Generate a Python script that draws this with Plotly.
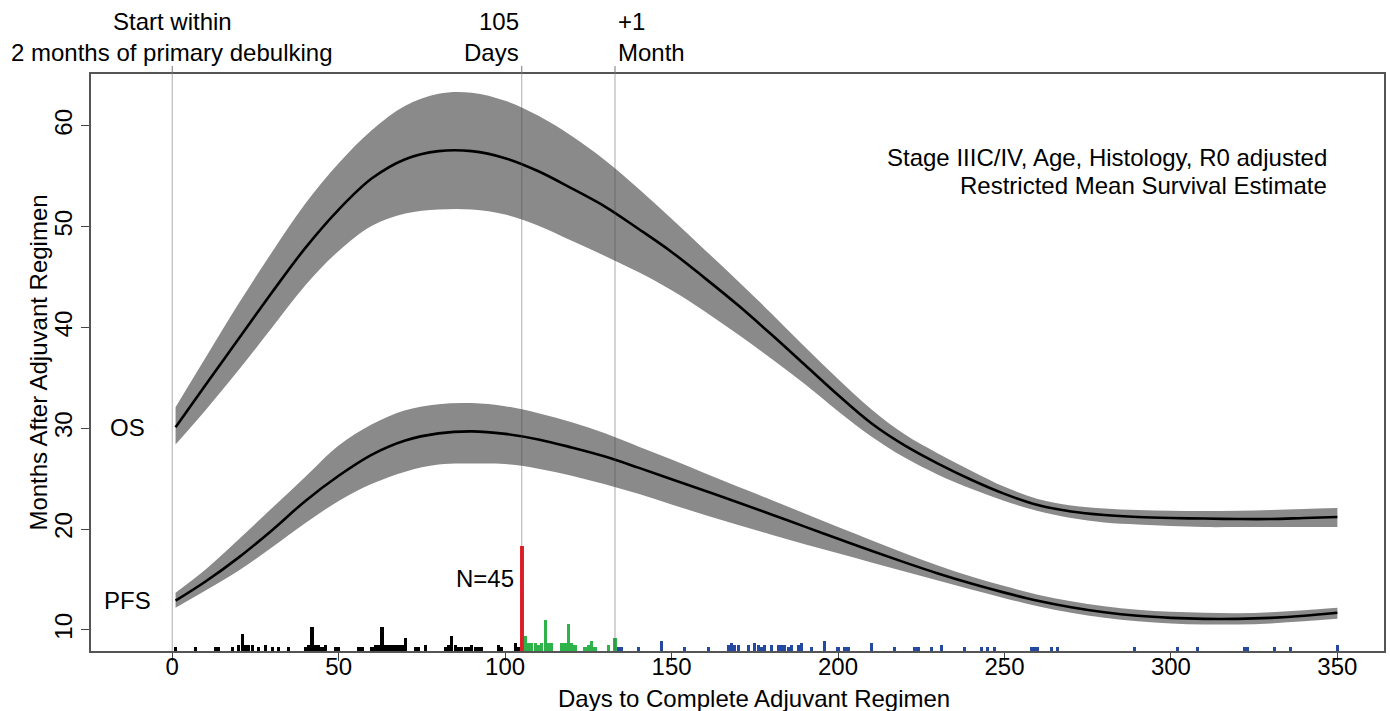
import plotly.graph_objects as go

# ---- Restricted mean survival curves (months) by days to complete regimen ----
days = [1, 10, 20, 30, 40, 50, 60, 70, 80, 90, 100, 110, 120, 130, 140, 150, 160, 170,
        180, 190, 200, 210, 220, 230, 240, 250, 260, 270, 280, 290, 300, 310, 320, 330, 340, 350]

os_mean = [30.1, 34.3, 38.9, 43.5, 47.9, 51.7, 54.8, 56.7, 57.5, 57.5, 56.8, 55.5, 53.8, 52.0,
           49.8, 47.5, 44.9, 42.2, 39.3, 36.3, 33.3, 30.5, 28.3, 26.5, 24.9, 23.5, 22.4, 21.75,
           21.4, 21.2, 21.1, 21.05, 21.0, 21.0, 21.1, 21.2]
os_upper = [32.1, 37.0, 42.4, 47.5, 52.3, 56.3, 59.6, 62.0, 63.2, 63.3, 62.5, 61.0, 59.0, 56.6,
            53.8, 50.8, 47.7, 44.6, 41.4, 38.1, 34.9, 31.9, 29.4, 27.5, 25.8, 24.2, 23.0, 22.35,
            22.05, 21.9, 21.82, 21.8, 21.83, 21.9, 22.0, 22.1]
os_lower = [28.4, 31.8, 35.8, 40.0, 44.2, 47.6, 50.1, 51.3, 51.7, 51.7, 51.2, 50.1, 48.6, 47.1,
            45.5, 43.7, 41.6, 39.3, 36.9, 34.4, 31.7, 29.2, 27.1, 25.4, 24.0, 22.8, 21.8, 21.1,
            20.65, 20.45, 20.3, 20.2, 20.2, 20.2, 20.2, 20.2]

pfs_mean = [12.9, 14.8, 17.2, 19.9, 22.8, 25.3, 27.4, 28.8, 29.5, 29.7, 29.45, 28.9, 28.1, 27.2,
            26.1, 24.95, 23.8, 22.65, 21.45, 20.25, 19.05, 17.85, 16.7, 15.6, 14.6, 13.7, 12.9,
            12.25, 11.75, 11.4, 11.2, 11.1, 11.1, 11.2, 11.4, 11.7]
pfs_upper = [13.7, 16.0, 19.0, 22.1, 25.2, 28.3, 30.4, 31.8, 32.4, 32.5, 32.2, 31.5, 30.6, 29.5,
             28.2, 26.9, 25.55, 24.2, 22.9, 21.55, 20.2, 18.9, 17.6, 16.4, 15.3, 14.35, 13.5,
             12.85, 12.35, 12.0, 11.8, 11.7, 11.65, 11.75, 11.95, 12.2]
pfs_lower = [12.2, 13.9, 15.9, 18.2, 20.6, 22.8, 24.5, 25.7, 26.4, 26.5, 26.45, 26.0, 25.3, 24.45,
             23.5, 22.45, 21.4, 20.4, 19.45, 18.5, 17.6, 16.7, 15.8, 14.9, 14.0, 13.15, 12.35,
             11.7, 11.2, 10.85, 10.65, 10.55, 10.55, 10.65, 10.85, 11.1]

# ---- Patient counts by days to complete regimen (rug histogram) ----
early_days = [1, 7, 13, 14, 18, 20, 21, 22, 23, 24, 26, 28, 30, 32, 35, 40, 41, 42, 43, 44, 45,
              46, 49, 50, 56, 57, 60, 61, 62, 63, 64, 65, 66, 67, 68, 69, 70, 73, 74, 76, 82, 83,
              84, 85, 86, 87, 88, 89, 90, 91, 92, 93, 98, 99, 103, 104]
early_counts = [1, 1, 1, 1, 1, 2, 7, 2, 2, 2, 1, 2, 1, 1, 1, 1, 2, 10, 2, 2, 1,
                2, 1, 1, 1, 1, 1, 2, 2, 10, 2, 2, 2, 2, 2, 2, 5, 1, 1, 2, 1, 2,
                6, 2, 1, 1, 1, 1, 2, 1, 1, 1, 2, 1, 3, 1]
target_days = [105]
target_counts = [45]
month_days = [106, 107, 108, 109, 110, 111, 112, 113, 114, 117, 118, 119, 120, 121, 124, 125,
              126, 127, 131, 133]
month_counts = [6, 3, 3, 3, 2, 3, 13, 3, 3, 3, 3, 11, 3, 2, 1, 2, 4, 1, 2, 5]
late_days = [134, 135, 140, 147, 154, 161, 167, 168, 169, 170, 173, 175, 176, 177, 178, 180, 182,
             183, 184, 185, 186, 188, 189, 192, 196, 200, 202, 203, 210, 217, 223, 224, 228, 231,
             238, 243, 245, 247, 258, 259, 260, 264, 266, 289, 302, 308, 322, 323, 331, 336, 350]
late_counts = [1, 1, 1, 4, 1, 1, 2, 3, 2, 2, 2, 3, 2, 1, 2, 2, 2,
               2, 2, 1, 2, 2, 3, 1, 4, 1, 1, 1, 3, 1, 1, 1, 1, 2,
               1, 1, 1, 1, 1, 1, 1, 1, 1, 1, 1, 1, 1, 1, 1, 1, 2]

x_ticks = [0, 50, 100, 150, 200, 250, 300, 350]
y_ticks = [10, 20, 30, 40, 50, 60]
ref_days = [0, 105, 133]

X_RANGE = [-24.4, 364.0]
Y_RANGE = [7.91, 65.15]
COUNT_SCALE = 0.2287  # months of bar height per patient in the rug histogram
STUB = 0.12           # keeps single-patient bars visible above the frame line

FONT = "Liberation Sans, Arial, sans-serif"
FS = 24
BAND = "#8a8a8a"

fig = go.Figure()


def add_curve(mean, upper, lower):
    fig.add_trace(go.Scatter(x=days, y=lower, mode="lines", line=dict(width=0, shape="spline"),
                             hoverinfo="skip", showlegend=False))
    fig.add_trace(go.Scatter(x=days, y=upper, mode="lines", line=dict(width=0, shape="spline"),
                             fill="tonexty", fillcolor=BAND, hoverinfo="skip", showlegend=False))
    fig.add_trace(go.Scatter(x=days, y=mean, mode="lines",
                             line=dict(color="black", width=2.6, shape="spline"),
                             showlegend=False))


add_curve(os_mean, os_upper, os_lower)
add_curve(pfs_mean, pfs_upper, pfs_lower)

# reference day lines across the panel
for d in ref_days:
    fig.add_trace(go.Scatter(x=[d, d], y=Y_RANGE, mode="lines",
                             line=dict(color="rgba(70,70,70,0.45)", width=1),
                             hoverinfo="skip", showlegend=False))


def add_rug(xs, counts, color, width=0.95):
    fig.add_trace(go.Bar(x=xs, y=[c * COUNT_SCALE + STUB for c in counts], base=Y_RANGE[0],
                         width=width, marker=dict(color=color, line=dict(width=0)),
                         showlegend=False))


add_rug(early_days, early_counts, "black")
add_rug(month_days, month_counts, "#2db34a")
add_rug(late_days, late_counts, "#2549a0")
add_rug(target_days, target_counts, "#e8202a", width=1.15)

# tick marks of the top reference axis
shapes = [dict(type="line", xref="x", yref="paper", x0=d, x1=d, y0=1, y1=1 + 8 / 577,
               line=dict(color="#777777", width=1)) for d in ref_days]

ann = []
top1, top2 = (651 - 21) / 577, (651 - 52) / 577
ann += [
    dict(x=ref_days[0], y=top1, text="Start within", xanchor="center", xshift=0),
    dict(x=ref_days[0], y=top2, text="2 months of primary debulking", xanchor="center", xshift=0),
    dict(x=ref_days[1], y=top1, text="105", xanchor="right", xshift=-1),
    dict(x=ref_days[1], y=top2, text="Days", xanchor="right", xshift=-1),
    dict(x=ref_days[2], y=top1, text="+1", xanchor="left", xshift=1),
    dict(x=ref_days[2], y=top2, text="Month", xanchor="left", xshift=1),
]
for a in ann:
    a.update(xref="x", yref="paper", yanchor="middle", showarrow=False,
             font=dict(family=FONT, size=FS, color="black"))

txt = dict(showarrow=False, font=dict(family=FONT, size=FS, color="black"))
ann += [
    dict(x=-13.3, y=os_mean[0], text="OS", xref="x", yref="y",
         xanchor="center", yanchor="middle", **txt),
    dict(x=-13.3, y=pfs_mean[0], text="PFS", xref="x", yref="y",
         xanchor="center", yanchor="middle", **txt),
    dict(x=103.2, y=15.15, text="N=45", xref="x", yref="y",
         xanchor="right", yanchor="middle", **txt),
    dict(x=347.5, y=56.9, text="Stage IIIC/IV, Age, Histology, R0 adjusted", xref="x", yref="y",
         xanchor="right", yanchor="middle", **txt),
    dict(x=347.5, y=54.1, text="Restricted Mean Survival Estimate", xref="x", yref="y",
         xanchor="right", yanchor="middle", **txt),
    dict(x=(755 - 91) / 1295, y=0, yshift=-32, text="Days to Complete Adjuvant Regimen",
         xref="paper", yref="paper", xanchor="center", yanchor="top", **txt),
    dict(x=(38 - 91) / 1295, y=0.5, text="Months After Adjuvant Regimen", textangle=-90,
         xref="paper", yref="paper", xanchor="center", yanchor="middle", **txt),
]

fig.update_layout(
    width=1390, height=711,
    margin=dict(l=91, r=4, t=74, b=60),
    paper_bgcolor="white", plot_bgcolor="white",
    barmode="overlay", bargap=0,
    shapes=shapes, annotations=ann,
    font=dict(family=FONT, size=FS, color="black"),
)
fig.update_xaxes(range=X_RANGE, tickvals=x_ticks, ticks="outside", ticklen=8, tickwidth=1.3,
                 tickcolor="#444", showline=True, linecolor="#555", linewidth=1.5, mirror=True,
                 showgrid=False, zeroline=False, ticklabelstandoff=-15,
                 tickfont=dict(family=FONT, size=FS))
fig.update_yaxes(range=Y_RANGE, tickvals=y_ticks, ticks="outside", ticklen=8, tickwidth=1.3,
                 tickcolor="#444", showline=True, linecolor="#555", linewidth=1.5, mirror=True,
                 showgrid=False, zeroline=False, tickangle=-90,
                 tickfont=dict(family=FONT, size=FS))

fig.write_html("out.html")
